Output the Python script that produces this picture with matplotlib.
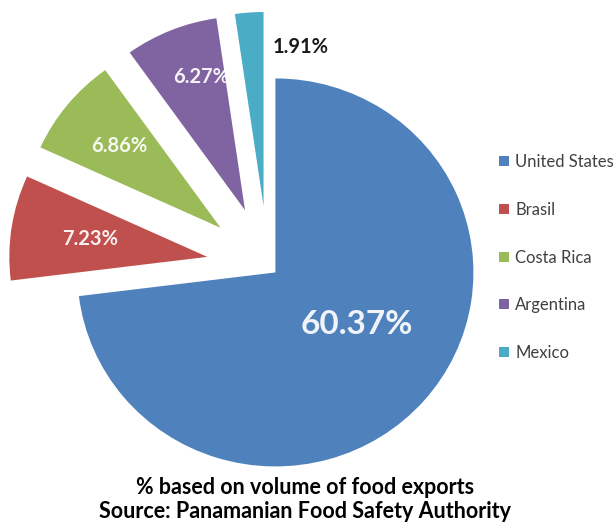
import numpy as np
import matplotlib
matplotlib.use("Agg")
import matplotlib.pyplot as plt

# ---- data ----
countries = ["United States", "Brasil", "Costa Rica", "Argentina", "Mexico"]
shares = [60.37, 7.23, 6.86, 6.27, 1.91]
share_labels = ["60.37%", "7.23%", "6.86%", "6.27%", "1.91%"]
title_lines = ["% based on volume of food exports",
               "Source: Panamanian Food Safety Authority"]

# ---- style ----
colors = ["#4F81BD", "#C0504D", "#9BBB59", "#8064A2", "#4BACC6"]
explode = [0.05, 0.31, 0.31, 0.31, 0.31]
label_r = [0.49, 0.60, 0.66, 0.72, None]
label_dang = [8, 0, 0, -4, 0]
label_size = [24, 14.5, 14.5, 14.5, 14.5]
FONT = "Lato"

W, H = 614, 523
fig = plt.figure(figsize=(W / 100, H / 100), dpi=100)
ax = fig.add_axes([0, 0, 1, 1])

cx, cy = 268, 266          # pie centre in pixels
sx, sy = 198, 194          # pixels per unit radius

wedges, _ = ax.pie(shares, colors=colors, explode=explode, startangle=90,
                   counterclock=False, radius=1.0, frame=True,
                   wedgeprops=dict(linewidth=0))
ax.set_xlim(-cx / sx, (W - cx) / sx)
ax.set_ylim(-(H - cy) / sy, cy / sy)
ax.set_aspect("auto")
ax.axis("off")

for w, lab, r, da, fs in zip(wedges, share_labels, label_r, label_dang, label_size):
    tm = np.deg2rad((w.theta1 + w.theta2) / 2 + da)
    x0, y0 = w.center
    if r is not None:
        ax.text(x0 + r * np.cos(tm), y0 + r * np.sin(tm), lab, color="white",
                alpha=0.92, fontsize=fs, fontweight="bold", family=FONT,
                ha="center", va="center")
    else:
        # small slice: label outside, to the right of the slice top
        ax.text(x0 + 0.185, y0 + 0.82, lab, color="#1a1a1a",
                fontsize=fs, fontweight="bold", family=FONT,
                ha="center", va="center")

leg = ax.legend(wedges, countries, loc="upper left",
                bbox_to_anchor=(491 / W, 1 - 146 / H),
                bbox_transform=fig.transFigure, frameon=False,
                handlelength=0.55, handleheight=0.55,
                handletextpad=0.4, labelspacing=1.9, borderpad=0,
                prop=dict(family=FONT, size=12))
for t in leg.get_texts():
    t.set_color("#404040")

fig.text(305 / W, 1 - 487 / H, title_lines[0], ha="center", va="center",
         fontsize=15.5, fontweight="bold", family=FONT, color="black")
fig.text(305 / W, 1 - 512 / H, title_lines[1], ha="center", va="center",
         fontsize=15.5, fontweight="bold", family=FONT, color="black")

fig.savefig("out.png", dpi=100)
